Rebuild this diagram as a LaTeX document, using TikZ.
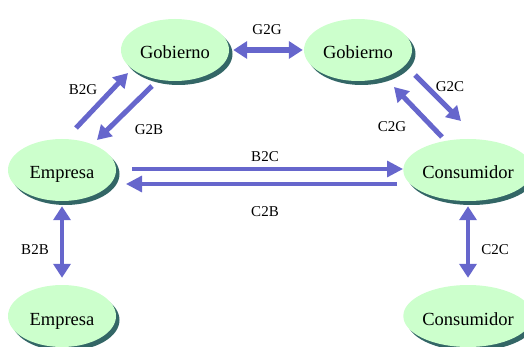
\documentclass[tikz,border=0pt]{standalone}
\usepackage{fontspec}
\setmainfont{Liberation Serif}
\usetikzlibrary{shapes.geometric,shadows,arrows.meta}
\definecolor{nodefill}{HTML}{CCFFCC}
\definecolor{shadowc}{HTML}{336666}
\definecolor{arrowc}{HTML}{6666CC}
\begin{document}
\begin{tikzpicture}[x=1pt,y=-1pt,
  actor/.style={ellipse, fill=nodefill, minimum width=108pt, minimum height=62pt, inner sep=0pt,
    text height=18pt, text depth=0pt,
    drop shadow={shadow xshift=3.5pt, shadow yshift=-4pt, fill=shadowc, opacity=1},
    font=\fontsize{18.5}{20}\selectfont},
  lbl/.style={font=\fontsize{15}{17}\selectfont, inner sep=0pt},
  flow/.style={draw=arrowc, line width=5pt, -{Triangle[width=16pt,length=14pt]}},
  hflow/.style={draw=arrowc, line width=3.3pt, -{Triangle[width=16pt,length=16pt]}},
  bflow/.style={draw=arrowc, line width=5.5pt, {Triangle[width=17pt,length=14pt]}-{Triangle[width=17pt,length=14pt]}}
]
\useasboundingbox (0,0) rectangle (524,347);
\node[actor] (G1) at (175,50) {Gobierno};
\node[actor] (G2) at (358,50) {Gobierno};
\node[actor] (E1) at (62,170) {Empresa};
\node[actor] (C1) at (468,170) {Consumidor};
\node[actor] (E2) at (62,316) {Empresa};
\node[actor] (C2) at (468,316) {Consumidor};

\coordinate (b2gs) at (76,128); \coordinate (b2ge) at (128,73);
\coordinate (g2bs) at (152,86); \coordinate (g2be) at (97,140);
\coordinate (g2cs) at (415,75); \coordinate (g2ce) at (461,121);
\coordinate (c2gs) at (442,137); \coordinate (c2ge) at (394,87);
\coordinate (b2cs) at (132,169); \coordinate (b2ce) at (403,169);
\coordinate (c2bs) at (397,184); \coordinate (c2be) at (126,184);

\draw[bflow, shorten <=4pt, shorten >=1pt] (G1.east) -- (G2.west);
\draw[flow] (b2gs) -- (b2ge);
\draw[flow] (g2bs) -- (g2be);
\draw[flow] (g2cs) -- (g2ce);
\draw[flow] (c2gs) -- (c2ge);
\draw[hflow] (b2cs) -- (b2ce);
\draw[hflow] (c2bs) -- (c2be);
\draw[bflow, line width=4.5pt, shorten <=5pt, shorten >=7pt] (E1.south) -- (E2.north);
\draw[bflow, line width=4.5pt, shorten <=5pt, shorten >=7pt] (C1.south) -- (C2.north);

\node[lbl] (lG2G) at (267,30) {G2G};
\node[lbl] (lB2G) at (83,90) {B2G};
\node[lbl] (lG2B) at (149,130) {G2B};
\node[lbl] (lB2C) at (265,157) {B2C};
\node[lbl] (lC2B) at (265,212) {C2B};
\node[lbl] (lG2C) at (450,87) {G2C};
\node[lbl] (lC2G) at (392,127) {C2G};
\node[lbl] (lB2B) at (35,250) {B2B};
\node[lbl] (lC2C) at (495,250) {C2C};
\end{tikzpicture}
\end{document}
